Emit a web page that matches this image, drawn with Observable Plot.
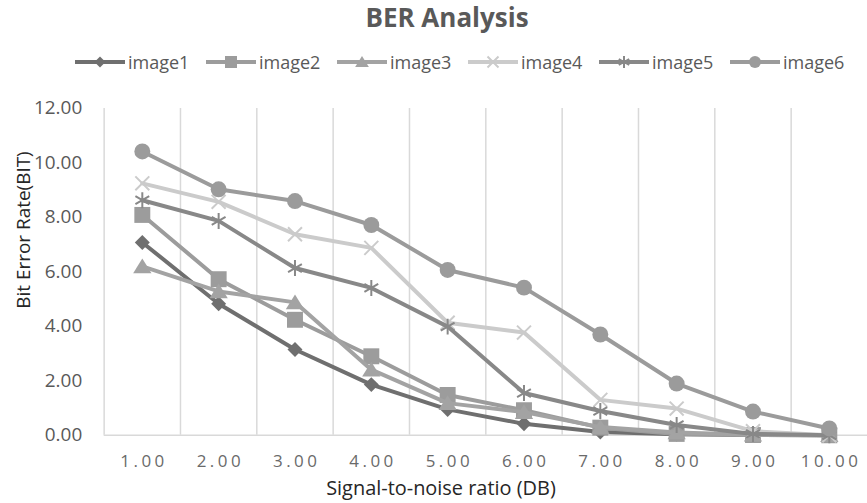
<!DOCTYPE html>
<html>
<head>
<meta charset="utf-8">
<script src="https://cdn.jsdelivr.net/npm/d3@7"></script>
<script src="https://cdn.jsdelivr.net/npm/@observablehq/plot@0.6"></script>
<style>
  body { margin: 0; background: #fff; font-family: "Open Sans", sans-serif; width: 867px; height: 503px; overflow: hidden; position: relative; }
  #title { position: absolute; left: 447px; top: -1px; transform: translateX(-50%); font-size: 26px; font-weight: 700; color: #595959; white-space: nowrap; }
  #legend { position: absolute; left: 75px; top: 50px; display: flex; }
  .item { width: 131px; display: flex; align-items: center; font-size: 18px; color: #595959; height: 24px; }
  .item svg { margin-right: 3px; }
  #chart { position: absolute; left: 0; top: 85px; }
  g[aria-label="x-axis tick label"] text { letter-spacing: 3.5px; }
</style>
</head>
<body>
<div id="title">BER Analysis</div>
<div id="legend"></div>
<div id="chart"></div>
<script>
// Signal-to-noise ratio categories and bit error rate per image
const snr = [1, 2, 3, 4, 5, 6, 7, 8, 9, 10];
const image1 = [7.08, 4.83, 3.15, 1.86, 0.95, 0.42, 0.12, 0.04, 0.01, 0.00];
const image2 = [8.09, 5.73, 4.24, 2.90, 1.48, 0.92, 0.28, 0.05, 0.01, 0.00];
const image3 = [6.20, 5.28, 4.88, 2.41, 1.18, 0.85, 0.30, 0.10, 0.02, 0.00];
const image4 = [9.25, 8.57, 7.38, 6.88, 4.13, 3.77, 1.30, 0.98, 0.15, 0.00];
const image5 = [8.63, 7.87, 6.14, 5.41, 3.99, 1.55, 0.89, 0.38, 0.05, 0.00];
const image6 = [10.42, 9.03, 8.60, 7.72, 6.07, 5.42, 3.70, 1.90, 0.87, 0.25];
const seriesNames = ["image1", "image2", "image3", "image4", "image5", "image6"];
const seriesValues = [image1, image2, image3, image4, image5, image6];
const yTicks = [0, 2, 4, 6, 8, 10, 12];

// Custom marker shapes; size is pi*r*r as passed by Plot's dot mark
const rad = (size) => Math.sqrt(size / Math.PI);
const diamond = { draw(c, s) { const r = rad(s); c.moveTo(0, -r); c.lineTo(r, 0); c.lineTo(0, r); c.lineTo(-r, 0); c.closePath(); } };
const square = { draw(c, s) { const r = rad(s); c.rect(-r, -r, 2 * r, 2 * r); } };
const triangle = { draw(c, s) { const r = rad(s); c.moveTo(0, -r); c.lineTo(r * 1.15, r * 0.85); c.lineTo(-r * 1.15, r * 0.85); c.closePath(); } };
const cross = { draw(c, s) { const r = rad(s); c.moveTo(-r, -r); c.lineTo(r, r); c.moveTo(r, -r); c.lineTo(-r, r); } };
const asterisk = { draw(c, s) { const r = rad(s); const a = r * Math.sin(Math.PI / 3), b = r * Math.cos(Math.PI / 3);
  c.moveTo(0, -r); c.lineTo(0, r); c.moveTo(-a, -b); c.lineTo(a, b); c.moveTo(a, -b); c.lineTo(-a, b); } };

const styles = [
  { color: "#6f6f6f", symbol: diamond, r: 7.5, filled: true, legendR: 5.5 },
  { color: "#9c9c9c", symbol: square, r: 8, filled: true, legendR: 6 },
  { color: "#a3a3a3", symbol: triangle, r: 8, filled: true, legendR: 6 },
  { color: "#cbcbcb", symbol: cross, r: 7, filled: false, legendR: 5.5 },
  { color: "#888888", symbol: asterisk, r: 8, filled: false, legendR: 6 },
  { color: "#9b9b9b", symbol: "circle", r: 8, filled: true, legendR: 6 }
];

// Legend
const legend = d3.select("#legend");
seriesNames.forEach((name, i) => {
  const st = styles[i];
  const item = legend.append("div").attr("class", "item");
  const svg = item.append("svg").attr("width", 50).attr("height", 16);
  svg.append("line").attr("x1", 0).attr("x2", 50).attr("y1", 8).attr("y2", 8)
    .attr("stroke", st.color).attr("stroke-width", 4);
  const sym = typeof st.symbol === "string" ? d3.symbolCircle : st.symbol;
  svg.append("path").attr("transform", "translate(25,8)")
    .attr("d", d3.symbol(sym, Math.PI * st.legendR * st.legendR)())
    .attr("fill", st.filled ? st.color : "none")
    .attr("stroke", st.color).attr("stroke-width", st.filled ? 0 : 2);
  item.append("span").text(name);
});

// Long-format rows for each series
const rows = seriesNames.map((name, i) => snr.map((s, j) => ({ snr: s, ber: seriesValues[i][j], series: name })));
const fmt = (d) => d.toFixed(2);

const marks = [
  Plot.ruleX(snr.map((s) => s - 0.5), { stroke: "#d9d9d9", strokeWidth: 1.5 }),
  Plot.ruleY([0], { stroke: "#d9d9d9", strokeWidth: 1.5 }),
  Plot.axisY(yTicks, { tickSize: 0, tickPadding: 22, tickFormat: fmt, fontSize: 19, fill: "#595959", label: null }),
  Plot.axisX(snr, { tickSize: 0, tickPadding: 20, tickFormat: fmt, fontSize: 17, fill: "#6a6a6a", dx: 1.75, label: null }),
  Plot.text(["Signal-to-noise ratio (DB)"], { text: (d) => d, frameAnchor: "bottom", textAnchor: "middle", lineAnchor: "middle", dx: -45, dy: 54, fontSize: 20, fill: "#262626" }),
  Plot.text(["Bit Error Rate(BIT)"], { text: (d) => d, frameAnchor: "left", textAnchor: "middle", lineAnchor: "middle", rotate: -90, dx: -80, dy: -42, fontSize: 19, fill: "#262626" })
];
rows.forEach((data, i) => {
  const st = styles[i];
  marks.push(Plot.line(data, { x: "snr", y: "ber", stroke: st.color, strokeWidth: 4, strokeLinejoin: "round" }));
  marks.push(Plot.dot(data, {
    x: "snr", y: "ber", symbol: st.symbol, r: st.r,
    fill: st.filled ? st.color : "none",
    stroke: st.filled ? "none" : st.color,
    strokeWidth: st.filled ? 0 : 2
  }));
});

const chart = Plot.plot({
  width: 870,
  height: 418,
  marginLeft: 104,
  marginRight: 0,
  marginTop: 23,
  marginBottom: 67,
  style: { fontFamily: "'Open Sans', sans-serif", background: "transparent", overflow: "visible" },
  x: { type: "linear", domain: [0.5, 10.5], axis: null },
  y: { domain: [0, 12], axis: null },
  marks
});
document.getElementById("chart").append(chart);
</script>
</body>
</html>
